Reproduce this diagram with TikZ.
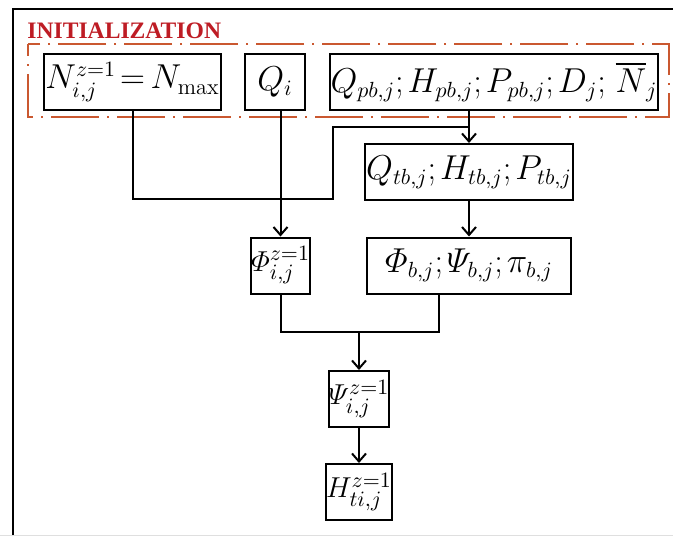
\documentclass[tikz,border=0pt]{standalone}
\usepackage{amsmath}
\usepackage{fontspec}
\newfontfamily\titlefont{Liberation Serif}
\usepackage{tikz}
\usetikzlibrary{arrows.meta}
\definecolor{initred}{RGB}{190,28,36}
\definecolor{initorange}{RGB}{202,88,48}
\newcommand{\sep}{;\mkern-1mu}

\begin{document}
\begin{tikzpicture}[x=0.5pt, y=-0.5pt,
        box/.style={draw, line width=1pt, inner sep=0pt, minimum height=28pt,
                    font=\fontsize{16}{20}\selectfont},
        smallbox/.style={box, minimum width=30pt, font=\fontsize{15}{18}\selectfont},
        flow/.style={line width=1pt},
        arr/.style={flow, -{Straight Barb[length=4pt, width=7pt, line width=1pt]}}]
                \useasboundingbox (0,0) rectangle (673,536);
                \draw[line width=1pt] (13,536) -- (13,9) -- (673,9);
                \draw[gray!25] (0,535) -- (673,535);
                % initialization group
                \draw[initorange, line width=1.1pt, dash pattern=on 24pt off 4pt on 1pt off 4pt, dash phase=18pt]
                    (28,44) rectangle (669,117);
                \node[initred, anchor=base west, inner sep=0pt, font=\fontsize{11.8}{14}\selectfont\titlefont\bfseries] (title) at (27,38) {INITIALIZATION};
                \node[box, minimum width=88.5pt] (nmax) at (132.5,82) {$N_{i,j}^{z=1}\mkern2mu\mathord{=}\,N_{\mathrm{max}}$};
                \node[box, minimum width=30pt] (qi) at (275,82) {$Q_i$};
                \node[box, minimum width=164pt] (qpb) at (494,82) {$Q_{pb,j}\sep H_{pb,j}\sep P_{pb,j}\sep D_j\sep\,\overline{N}_j$};
                % computed values
                \node[box, minimum width=104pt] (qtb) at (469,172) {$Q_{tb,j}\sep H_{tb,j}\sep P_{tb,j}$};
                \node[smallbox, minimum width=29.5pt] (phiij) at (280.5,265.5) {$\varPhi_{i,j}^{z=1}$};
                \node[box, minimum width=102pt] (phib) at (469,265.5) {$\varPhi_{b,j}\sep\varPsi_{b,j}\sep\pi_{b,j}$};
                \node[smallbox] (psi) at (359,399) {$\varPsi_{i,j}^{z=1}$};
                \node[smallbox] (hti) at (359,492) {$H_{ti,j}^{z=1}$};
                \coordinate (c1) at (333,199);
                \coordinate (c2) at (333,127);
                \coordinate (merge) at (359,332);
                \coordinate (pbout) at (439,294);
                % connectors
                \draw[flow] (nmax.south) |- (c1) -- (c2) -- (c2 -| qtb.north);
                \draw[arr] (qtb.north |- qpb.south) -- (qtb.north);
                \draw[arr] (phiij.north |- qi.south) -- (phiij.north);
                \draw[arr] (qtb) -- (phib);
                \draw[flow] (phiij.south) |- (merge) -| (pbout);
                \draw[arr] (merge) -- (psi.north);
                \draw[arr] (psi) -- (hti);
            \end{tikzpicture}
\end{document}
